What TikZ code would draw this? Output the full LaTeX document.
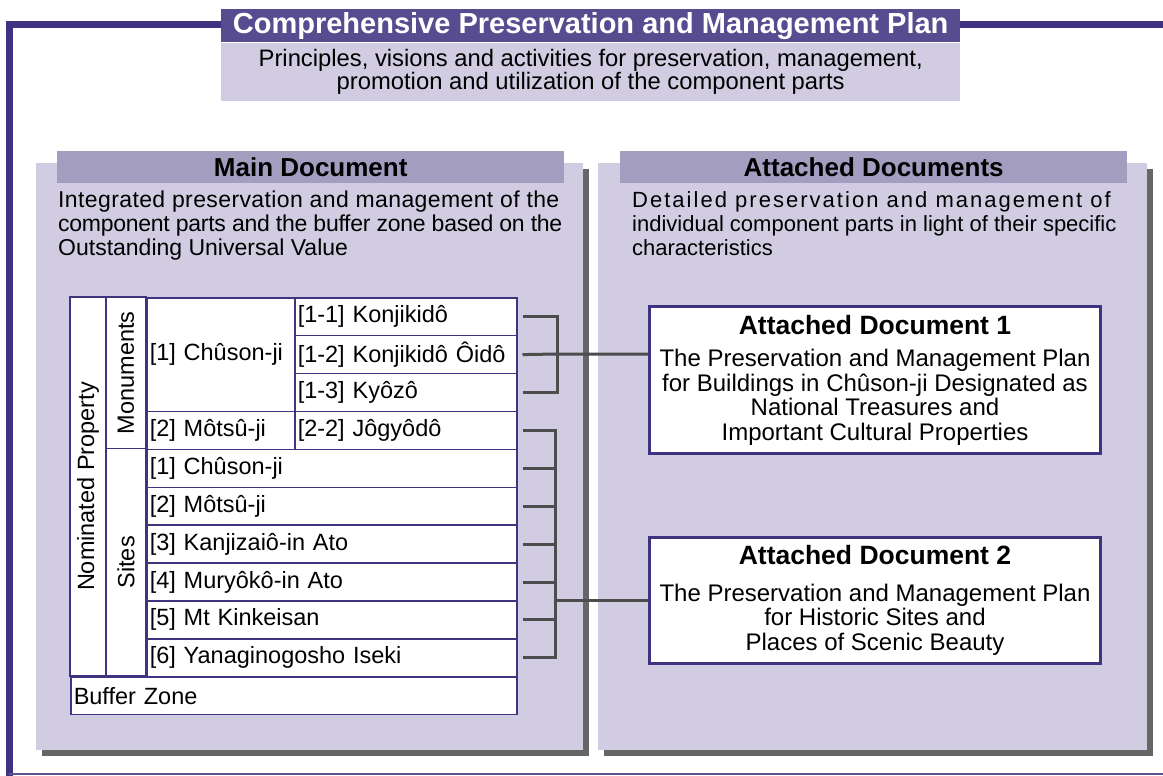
\documentclass[tikz,border=0pt]{standalone}
\usepackage{fontspec}
\setmainfont{Liberation Sans}
\newfontfamily\widefont[LetterSpace=9.2]{Liberation Sans}
\newfontfamily\looseone[LetterSpace=1.7]{Liberation Sans}
\newfontfamily\tightone[LetterSpace=-1.2]{Liberation Sans}
\definecolor{framepurple}{HTML}{3D3380}
\definecolor{titlepurple}{HTML}{574C8F}
\definecolor{lightpanel}{HTML}{D1CCE1}
\definecolor{headerbar}{HTML}{A39DC0}
\definecolor{shadowgray}{HTML}{666666}
\definecolor{connector}{HTML}{4D4D4D}
\definecolor{tableline}{HTML}{3D3580}
\tikzset{
  conn/.style={draw=connector, line width=3pt},
  cellbox/.style={draw=tableline, line width=1.5pt, fill=white, inner xsep=3pt, inner ysep=0pt,
    anchor=north west, align=left, font=\fontsize{23.5}{26}\selectfont},
  rotcell/.style={draw=tableline, line width=1.5pt, fill=white, inner sep=0pt, rotate=90,
    font=\fontsize{23.5}{26}\selectfont},
  headbar/.style={fill=headerbar, minimum width=507pt, minimum height=32pt, inner sep=0pt,
    anchor=north west, font=\fontsize{26}{30}\selectfont\bfseries},
  panelbox/.style={fill=lightpanel},
  shadowbox/.style={fill=shadowgray},
  adbox/.style={draw=framepurple, line width=3pt, fill=white, minimum width=451pt, anchor=north west,
    align=center, inner sep=0pt, font=\fontsize{24}{24.5}\selectfont},
  desc/.style={anchor=north west, align=left, inner sep=0pt, font=\fontsize{23}{24}\selectfont},
}
\newcommand{\adtitle}[1]{{\fontsize{26.5}{28}\selectfont\bfseries #1}}
\begin{document}
\begin{tikzpicture}[x=1pt,y=-1pt]
\path[use as bounding box, fill=white] (0,0) rectangle (1163,776);
% outer frame
\draw[framepurple, line width=7pt] (1163,25) -- (9,25) -- (9,776);
\draw[framepurple!85, line width=1.5pt] (9,774) -- (1163,774);
% title
\node[fill=titlepurple, minimum width=739pt, minimum height=33pt, inner sep=0pt, anchor=north west,
  text=white, font=\fontsize{29}{32}\selectfont\bfseries] (title) at (221,9)
  {Comprehensive Preservation and Management Plan};
\node[fill=lightpanel, minimum width=739pt, minimum height=58pt, inner sep=0pt, anchor=north,
  align=center, font=\fontsize{23.8}{23}\selectfont] (sub) at (title.south)
  {Principles, visions and activities for preservation, management,\\promotion and utilization of the component parts};
% panels
\path[shadowbox] (42,169) rectangle (589,756);
\path[panelbox] (36,163) rectangle (583,750);
\path[shadowbox] (604,169) rectangle (1153,756);
\path[panelbox] (598,163) rectangle (1147,750);
\node[headbar] (mainhead) at (57,151) {Main Document};
\node[headbar] (atthead) at (620,151) {Attached Documents};
\node[desc] (maindesc) at (58,191)
  {{\looseone Integrated preservation and management of the}\\{\tightone component parts and the buffer zone based on the}\\Outstanding Universal Value};
\node[desc, font=\fontsize{22}{24}\selectfont] (attdesc) at (632,191.5)
  {{\widefont Detailed preservation and management of}\\individual component parts in light of their specific\\characteristics};
% table
\node[rotcell, minimum width=379pt, minimum height=36pt] (np) at (88,486.5) {Nominated Property};
\node[rotcell, minimum width=151.6pt, minimum height=40pt] (mon) at (126,372.8) {Monuments};
\node[rotcell, minimum width=227.4pt, minimum height=40pt] (sites) at (126,562.3) {Sites};
\node[cellbox, text width=142pt, minimum height=113.7pt] (ch1) at (146,297) {[1] Chûson-ji};
\node[cellbox, text width=142pt, minimum height=37.9pt] (mo2) at (146,410.7) {[2] Môtsû-ji};
\node[cellbox, text width=216pt, minimum height=37.9pt] (k1) at (294,297) {[1-1] Konjikidô};
\node[cellbox, text width=216pt, minimum height=37.9pt] (k2) at (294,334.9) {[1-2] Konjikidô Ôidô};
\node[cellbox, text width=216pt, minimum height=37.9pt] (k3) at (294,372.8) {[1-3] Kyôzô};
\node[cellbox, text width=216pt, minimum height=37.9pt] (j22) at (294,410.7) {[2-2] Jôgyôdô};
\node[cellbox, text width=364pt, minimum height=37.9pt] (s1) at (146,448.6) {[1] Chûson-ji};
\node[cellbox, text width=364pt, minimum height=37.9pt] (s2) at (146,486.5) {[2] Môtsû-ji};
\node[cellbox, text width=364pt, minimum height=37.9pt] (s3) at (146,524.4) {[3] Kanjizaiô-in Ato};
\node[cellbox, text width=364pt, minimum height=37.9pt] (s4) at (146,562.3) {[4] Muryôkô-in Ato};
\node[cellbox, text width=364pt, minimum height=37.9pt] (s5) at (146,600.2) {[5] Mt Kinkeisan};
\node[cellbox, text width=364pt, minimum height=37.9pt] (s6) at (146,638.1) {[6] Yanaginogosho Iseki};
\node[cellbox, text width=440pt, minimum height=37.9pt] (bz) at (70,676) {Buffer Zone};
% attached document boxes
\node[adbox, minimum height=147pt] (ad1) at (648,305)
  {\adtitle{Attached Document 1}\\[8pt]The Preservation and Management Plan\\for Buildings in Chûson-ji Designated as\\National Treasures and\\Important Cultural Properties};
\node[adbox, minimum height=126pt] (ad2) at (648,536)
  {\adtitle{Attached Document 2}\\[12pt]The Preservation and Management Plan\\for Historic Sites and\\Places of Scenic Beauty};
% connectors
\coordinate (j1) at (557,354);
\coordinate (j2) at (555,600);
\draw[conn] ([xshift=5pt]k1.east) -| (j1);
\draw[conn] ([xshift=5pt]k3.east) -| (j1);
\draw[conn] ([xshift=5pt]k2.east) -- (j1) -- (j1 -| ad1.west);
\foreach \n in {j22,s1,s2,s3,s4,s5,s6} {
  \draw[conn] ([xshift=5pt]\n.east) -| (j2);
}
\draw[conn] (j2) -- (j2 -| ad2.west);
\end{tikzpicture}
\end{document}
